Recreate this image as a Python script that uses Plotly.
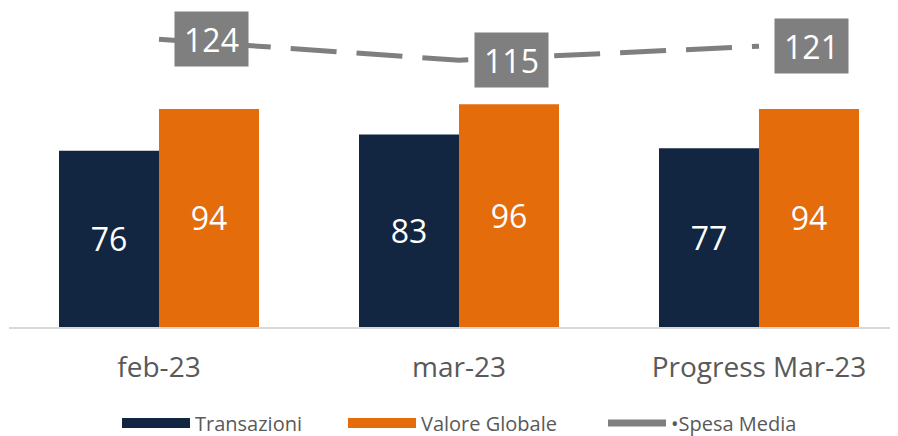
import plotly.graph_objects as go

categories = ["feb-23", "mar-23", "Progress Mar-23"]
transazioni = [76, 83, 77]
valore_globale = [94, 96, 94]
spesa_media = [124, 115, 121]
series_names = ["Transazioni", "Valore Globale", "Spesa Media"]

NAVY = "#122641"
ORANGE = "#E46C0A"
GRAY = "#7F7F7F"
TEXT = "#595959"
FONT = "Open Sans"

# the page has an 8px body margin, so the figure is sized to the remaining viewport
W, H = 890, 428

fig = go.Figure()

for vals, name, col in [(transazioni, series_names[0], NAVY), (valore_globale, series_names[1], ORANGE)]:
    fig.add_bar(
        x=categories, y=vals, name=name, marker=dict(color=col, line=dict(width=0)),
        text=vals, textposition="inside", insidetextanchor="middle", textangle=0,
        textfont=dict(color="white", size=32, family=FONT), showlegend=False,
    )

fig.add_scatter(
    x=categories, y=spesa_media, mode="lines", name=series_names[2],
    line=dict(color=GRAY, width=5, dash="46px,20px"), showlegend=False,
)

# legend-only swatches
fig.add_scatter(x=[None], y=[None], mode="lines", name=series_names[0],
                line=dict(color=NAVY, width=15), legend="legend")
fig.add_scatter(x=[None], y=[None], mode="lines", name=series_names[1],
                line=dict(color=ORANGE, width=15), legend="legend2")
fig.add_scatter(x=[None], y=[None], mode="lines",
                name="\u2022" + series_names[2],
                line=dict(color=GRAY, width=7), legend="legend3")

for c, v in zip(categories, spesa_media):
    fig.add_annotation(
        x=c, y=v, text=str(v), showarrow=False, xanchor="left", yanchor="middle",
        xshift=15, bgcolor=GRAY, width=73, height=54, borderpad=0,
        font=dict(color="white", size=32, family=FONT),
    )

legfont = dict(size=20, color=TEXT, family=FONT)
common = dict(orientation="h", xref="container", yref="container", yanchor="middle",
              y=13 / H, font=legfont, bgcolor="rgba(0,0,0,0)", borderwidth=0)

fig.update_layout(
    width=W, height=H,
    margin=dict(l=1, r=0, t=0, b=109),
    paper_bgcolor="white", plot_bgcolor="white",
    barmode="group", bargap=1/3, bargroupgap=0,
    font=dict(family=FONT, color=TEXT),
    xaxis=dict(range=[-0.5, -0.5 + 889/300], showline=True, linecolor="#D9D9D9", linewidth=2,
               ticks="", ticklabelstandoff=14,
               tickfont=dict(size=28, color=TEXT, family=FONT), showgrid=False),
    yaxis=dict(range=[0, 137.5], visible=False, showgrid=False, zeroline=False),
    legend=dict(x=109 / W, itemwidth=68, **common),
    legend2=dict(x=335 / W, itemwidth=68, **common),
    legend3=dict(x=595 / W, itemwidth=58, **common),
)

fig.write_html("out.html")
